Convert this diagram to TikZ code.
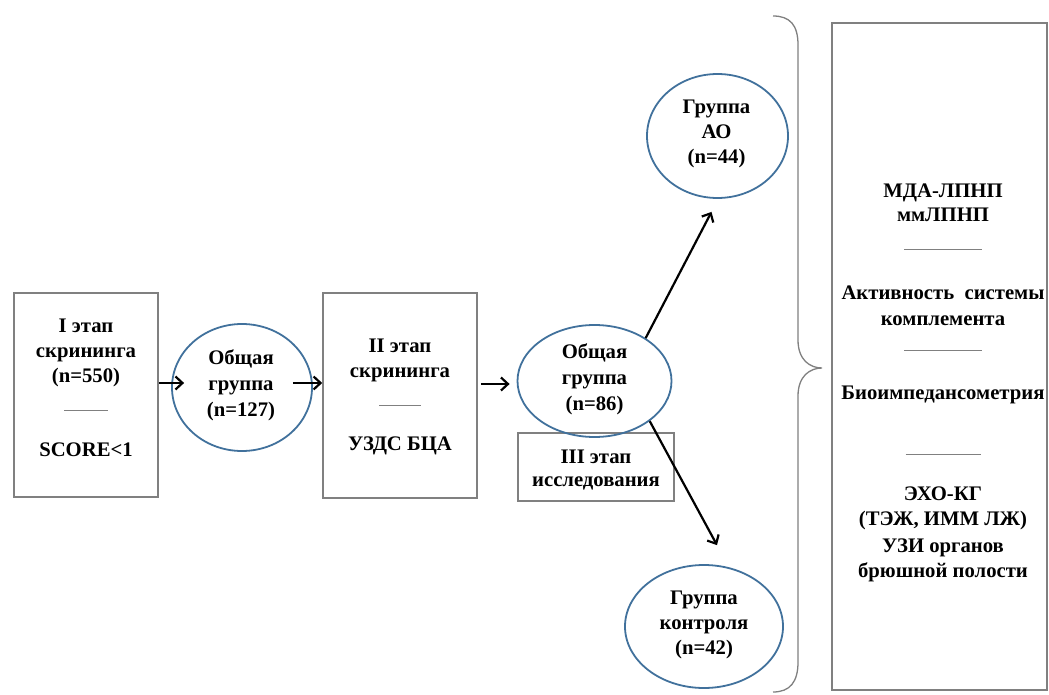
\documentclass[tikz,border=0pt]{standalone}
\usepackage{fontspec}
\setmainfont{Liberation Serif}
\usetikzlibrary{arrows.meta,shapes.geometric,calc}
\definecolor{ellblue}{RGB}{65,113,156}
\definecolor{boxgray}{RGB}{128,128,128}
\newcommand{\seprule}[1]{\textcolor{boxgray}{\rule{#1}{1.4pt}}}
\begin{document}
\begin{tikzpicture}[x=1pt,y=-1pt,
  box/.style={draw=boxgray, line width=1.6pt, inner sep=0pt},
  oval/.style={ellipse, draw=ellblue, line width=1.8pt, inner sep=0pt},
  txt/.style={align=center, inner sep=0pt, anchor=base, font=\bfseries\fontsize{20.7}{25}\selectfont},
  otxt/.style={txt, font=\bfseries\fontsize{20.7}{26}\selectfont},
  arr/.style={line width=2.2pt, -{Straight Barb[length=7pt,width=13pt,line width=2.2pt]}},
  bracestyle/.style={draw=boxgray, line width=1.3pt}]
\useasboundingbox (0,0) rectangle (1049,695);
% boxes
\node[box, minimum width=144pt, minimum height=204pt] (b1) at (86,395) {};
\node[box, minimum width=154pt, minimum height=205pt] (b2) at (400,395.5) {};
\node[box, minimum width=156pt, minimum height=68pt] (b3) at (596,467) {};
\node[box, minimum width=215pt, minimum height=667pt] (rb) at (939.5,356.5) {};
% ellipses
\node[oval, minimum width=140pt, minimum height=127pt] (e1) at (242,387.5) {};
\node[oval, minimum width=154pt, minimum height=112pt] (e2) at (594.5,381) {};
\node[oval, minimum width=141pt, minimum height=124pt] (ao) at (717.5,136) {};
\node[oval, minimum width=158pt, minimum height=123pt] (ctl) at (704,626.5) {};
% texts (anchor base = baseline of the last line)
\node[txt] (t1) at ($(b1.north)+(0,164)$) {I этап\\скрининга\\(n=550)\\[4pt]\seprule{44pt}\\[20pt]SCORE<1};
\node[txt] (t2) at ($(b2.north)+(0,158)$) {II этап\\скрининга\\[4pt]\seprule{42pt}\\[19pt]УЗДС БЦА};
\node[txt, font=\bfseries\fontsize{20.7}{23}\selectfont] (t3) at ($(b3.north)+(0,54)$) {III этап\\исследования};
\node[otxt] (te1) at ($(e1.center)+(-1,28.5)$) {Общая\\группа\\(n=127)};
\node[otxt] (te2) at ($(e2.center)+(0,29)$) {Общая\\группа\\(n=86)};
\node[txt] (tao) at ($(ao.center)+(-1,28)$) {Группа\\АО\\(n=44)};
\node[txt] (tctl) at ($(ctl.center)+(0,27.5)$) {Группа\\контроля\\(n=42)};
\node[txt] (trb) at ($(rb.north)+(3.5,555)$) {МДА-ЛПНП\\[-1pt]ммЛПНП\\[4pt]\seprule{78pt}\\[24pt]Активность\ \ системы\\[1pt]комплемента\\[1pt]\seprule{78pt}\\[23pt]Биоимпедансометрия\\[31pt]\seprule{75pt}\\[20pt]ЭХО-КГ\\(ТЭЖ, ИММ ЛЖ)\\[2pt]УЗИ органов\\брюшной полости};
% arrows
\draw[arr] ($(b1.east)+(0,-12)$) -- ($(e1.west)+(13,-4.5)$);
\draw[arr] ($(e1.east)+(-20,-4.5)$) -- ($(b2.west)+(0,-12.5)$);
\draw[arr] ($(b2.east)+(3,-11.5)$) -- ($(e2.west)+(-7,3)$);
\draw[arr] (e2.40) -- ($(ao.south)+(-6,13)$);
\draw[arr] (e2.-36) -- ($(ctl.north)+(13,-19)$);
% brace
\draw[bracestyle] (773,16) .. controls (790,16) and (798,25) .. (798,45) -- (798,340)
  .. controls (798,360) and (810,368) .. (822,368)
  .. controls (810,368) and (798,376) .. (798,396) -- (798,662)
  .. controls (798,682) and (790,692) .. (773,692);
\end{tikzpicture}
\end{document}
